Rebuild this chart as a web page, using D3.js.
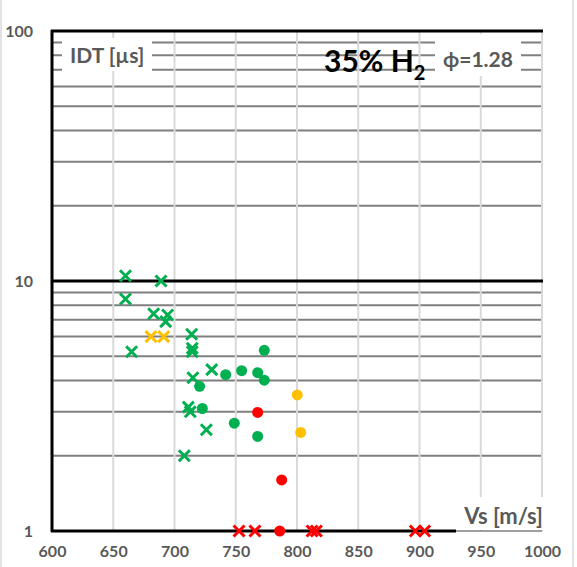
<!DOCTYPE html>
<html><head><meta charset="utf-8">
<script src="https://cdn.jsdelivr.net/npm/d3@7"></script>
<style>body{margin:0;background:#fff;}svg{display:block;font-family:Lato,"Open Sans",sans-serif;}</style>
</head><body><svg id="c" width="577" height="567"></svg>
<script>
const xTicks = [600,650,700,750,800,850,900,950,1000];
const yTicks = [1,10,100];
const yMinor = [2,3,4,5,6,7,8,9,20,30,40,50,60,70,80,90];
// [Vs (m/s), IDT (µs)]
const greenCross = [[660,10.5],[689,10.0],[660,8.47],[683,7.40],[694.4,7.31],[692.8,6.88],[665,5.21],[714,6.12],[714.5,5.38],[714.5,5.21],[715,4.10],[730.4,4.42],[711.3,3.13],[712.9,3.0],[726,2.54],[708,2.0]];
const yellowCross = [[680.8,5.99],[691.2,5.99]];
const redCross = [[752.7,1],[765.7,1],[812.3,1],[815.8,1],[896.6,1],[904.2,1]];
const greenDot = [[720.5,3.79],[722.7,3.09],[741.8,4.22],[754.8,4.38],[767.9,4.30],[773.3,5.28],[773.3,4.01],[748.8,2.70],[767.9,2.39]];
const yellowDot = [[800.2,3.50],[803,2.48]];
const redDot = [[767.9,2.98],[787.5,1.60],[785.9,1.0]];

const svg = d3.select("#c");
const x = d3.scaleLinear().domain([600,1000]).range([52,542]);
const y = d3.scaleLog().domain([1,100]).range([531,31]);
const gray = "#595959";

// outer frame lines
svg.append("line").attr("x1",1).attr("x2",1).attr("y1",0).attr("y2",567).attr("stroke","#d9d9d9").attr("stroke-width",1.5);
svg.append("line").attr("x1",573).attr("x2",573).attr("y1",0).attr("y2",567).attr("stroke","#d9d9d9").attr("stroke-width",1.5);

// minor horizontal gridlines
svg.append("g").selectAll("line").data(yMinor).join("line")
  .attr("x1",52).attr("x2",542).attr("y1",d=>y(d)).attr("y2",d=>y(d))
  .attr("stroke","#7f7f7f").attr("stroke-width",2);
// vertical gridlines
svg.append("g").selectAll("line").data(xTicks.slice(1)).join("line")
  .attr("x1",d=>x(d)).attr("x2",d=>x(d)).attr("y1",31).attr("y2",531)
  .attr("stroke","#d9d9d9").attr("stroke-width",2);
// major horizontal lines
svg.append("g").selectAll("line").data(yTicks).join("line")
  .attr("x1",51).attr("x2",d=>d===1?456:543).attr("y1",d=>y(d)).attr("y2",d=>y(d))
  .attr("stroke","#000").attr("stroke-width",3);
svg.append("line").attr("x1",52).attr("x2",52).attr("y1",30).attr("y2",532).attr("stroke","#000").attr("stroke-width",3);

// label boxes (white backgrounds)
svg.append("rect").attr("x",62).attr("y",38).attr("width",90).attr("height",33).attr("fill","#fff");
svg.append("rect").attr("x",435).attr("y",34).attr("width",86).attr("height",42).attr("fill","#fff");
svg.append("rect").attr("x",456).attr("y",497).attr("width",92).attr("height",33).attr("fill","#fff");
svg.append("line").attr("x1",456).attr("x2",542).attr("y1",531).attr("y2",531).attr("stroke","#404040").attr("stroke-width",1);

// axes tick labels
const xa = svg.append("g").attr("transform","translate(0,531)")
  .call(d3.axisBottom(x).tickValues(xTicks).tickSize(0).tickPadding(15).tickFormat(d3.format("d")));
xa.select(".domain").remove();
xa.selectAll("text").attr("fill",gray).attr("font-size",16).attr("font-weight","bold").attr("font-family","Lato,sans-serif");
const ya = svg.append("g").attr("transform","translate(33,0)")
  .call(d3.axisLeft(y).tickValues(yTicks).tickSize(0).tickPadding(0).tickFormat(d3.format("d")));
ya.select(".domain").remove();
ya.selectAll("text").attr("fill",gray).attr("font-size",16).attr("font-weight","bold").attr("font-family","Lato,sans-serif");

// texts
svg.append("text").attr("x",70).attr("y",63).attr("fill",gray).attr("font-size",21).attr("font-weight","bold").text("IDT [µs]");
svg.append("text").attr("x",543).attr("y",524).attr("text-anchor","end").attr("fill",gray).attr("font-size",22).attr("font-weight","bold").text("Vs [m/s]");
const t = svg.append("text").attr("x",324).attr("y",72).attr("fill","#000").attr("font-size",30).attr("font-weight","bold");
t.append("tspan").text("35% H");
t.append("tspan").attr("font-size",20).attr("dy",8).text("2");
svg.append("text").attr("x",443).attr("y",67).attr("fill",gray).attr("font-size",21).attr("font-weight","bold").text("ϕ=1.28");

// markers
function dots(data,color){
  svg.append("g").selectAll("circle").data(data).join("circle")
    .attr("cx",d=>x(d[0])).attr("cy",d=>y(d[1])).attr("r",5.5).attr("fill",color);
}
function crosses(data,color){
  svg.append("g").selectAll("path").data(data).join("path")
    .attr("d",d=>{const cx=x(d[0]),cy=y(d[1]),s=5.5;
      return `M${cx-s},${cy-s}L${cx+s},${cy+s}M${cx-s},${cy+s}L${cx+s},${cy-s}`;})
    .attr("stroke",color).attr("stroke-width",3).attr("fill","none");
}
crosses(greenCross,"#00b050");
crosses(yellowCross,"#ffc000");
dots(greenDot,"#00b050");
dots(yellowDot,"#ffc000");
dots(redDot,"#ff0000");
crosses(redCross,"#ff0000");
</script></body></html>
